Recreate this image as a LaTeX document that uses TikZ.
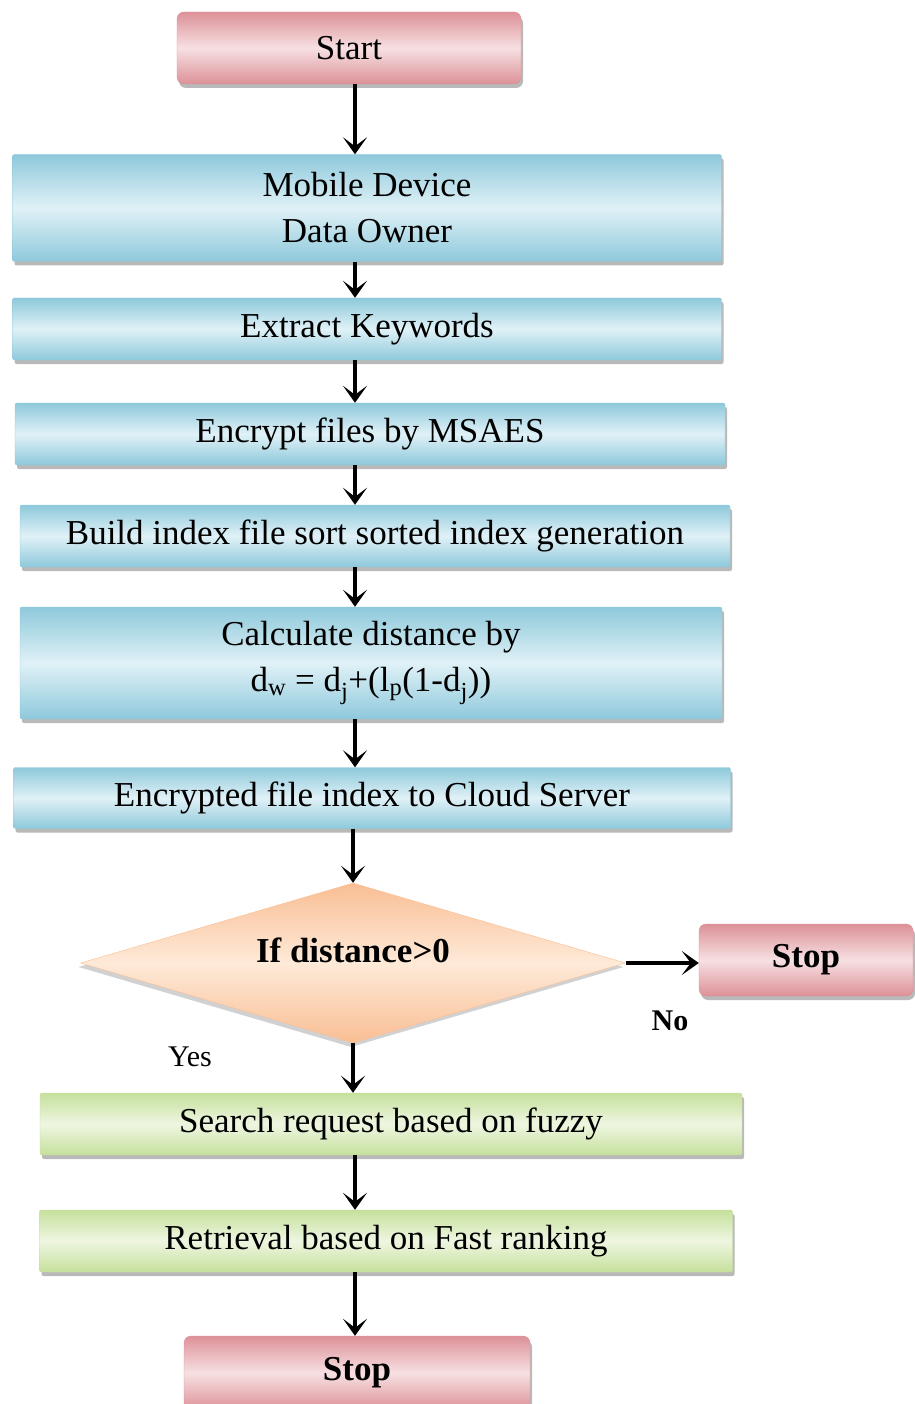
\documentclass[tikz,border=0pt]{standalone}
\usepackage{fontspec}
\setmainfont{Liberation Serif}
\usetikzlibrary{arrows.meta, shapes.geometric, shadows}

\definecolor{bluedark}{RGB}{142,201,219}
\definecolor{bluelight}{RGB}{224,241,247}
\definecolor{pinkdark}{RGB}{220,145,152}
\definecolor{pinklight}{RGB}{247,224,226}
\definecolor{greendark}{RGB}{198,224,156}
\definecolor{greenlight}{RGB}{238,246,225}
\definecolor{orangedark}{RGB}{249,190,148}
\definecolor{orangelight}{RGB}{254,234,216}

\begin{document}
\begin{tikzpicture}[x=1pt, y=-1pt]
    \tikzstyle{box}=[rectangle, rounded corners=2pt, inner sep=0pt, align=center, font=\fontsize{35}{46}\selectfont, drop shadow={shadow xshift=2pt, shadow yshift=-4pt, fill=black!55, opacity=.5}]
    \tikzstyle{bluebox}=[box, draw=bluedark, top color=bluedark, bottom color=bluedark, middle color=bluelight]
    \tikzstyle{greenbox}=[box, draw=greendark, top color=greendark, bottom color=greendark, middle color=greenlight]
    \tikzstyle{pinkbox}=[box, rounded corners=7pt, draw=pinkdark, top color=pinkdark, bottom color=pinkdark, middle color=pinklight]
    \tikzstyle{decision}=[diamond, aspect=3.4, inner sep=0pt, minimum width=545pt, minimum height=160pt, draw=orangedark, top color=orangedark, bottom color=orangedark, middle color=orangelight, font=\fontsize{35}{40}\selectfont\bfseries, text depth=26pt, drop shadow={shadow xshift=-2pt, shadow yshift=-4pt, fill=black!45, opacity=.4}]
    \tikzstyle{edge}=[draw, line width=4.5pt, -{Stealth[length=17pt, width=24pt, inset=9pt]}]
    \tikzstyle{answer}=[font=\fontsize{30}{36}\selectfont]

    \useasboundingbox (0,0) rectangle (914,1404);
    \coordinate (spine) at (355,0);

    \node[pinkbox, minimum width=344pt, minimum height=72pt] (start) at (349,48) {Start};
    \node[bluebox, minimum width=709pt, minimum height=107pt] (owner) at (367,208) {Mobile Device\\Data Owner};
    \node[bluebox, minimum width=709pt, minimum height=62pt] (extract) at (367,329) {Extract Keywords};
    \node[bluebox, minimum width=710pt, minimum height=62pt] (encrypt) at (370,434) {Encrypt files by MSAES};
    \node[bluebox, minimum width=710pt, minimum height=62pt] (index) at (375,536) {Build index file sort sorted index generation};
    \node[bluebox, minimum width=702pt, minimum height=112pt] (dist) at (371,663) {Calculate distance by\\d\textsubscript{w} = d\textsubscript{j}+(l\textsubscript{p}(1-d\textsubscript{j}))};
    \node[bluebox, minimum width=717pt, minimum height=61pt] (cloud) at (372,798) {Encrypted file index to Cloud Server};
    \node[decision] (check) at (353,963) {If distance>0};
    \node[pinkbox, minimum width=214pt, minimum height=72pt, font=\fontsize{35}{40}\selectfont\bfseries] (stopno) at (806,960) {Stop};
    \node[greenbox, minimum width=702pt, minimum height=62pt] (search) at (391,1124) {Search request based on fuzzy};
    \node[greenbox, minimum width=693pt, minimum height=62pt] (rank) at (386,1241) {Retrieval based on Fast ranking};
    \node[pinkbox, minimum width=346pt, minimum height=74pt, font=\fontsize{35}{40}\selectfont\bfseries] (stop) at (357,1373) {Stop};

    \node[answer, font=\fontsize{30}{36}\selectfont\bfseries] (no) at (670,1021) {No};
    \node[answer] (yes) at (190,1057) {Yes};

    \path[edge] (start.south -| spine) -- (owner.north -| spine);
    \path[edge] (owner.south -| spine) -- (extract.north -| spine);
    \path[edge] (extract.south -| spine) -- (encrypt.north -| spine);
    \path[edge] (encrypt.south -| spine) -- (index.north -| spine);
    \path[edge] (index.south -| spine) -- (dist.north -| spine);
    \path[edge] (dist.south -| spine) -- (cloud.north -| spine);
    \path[edge] (cloud.south -| check.north) -- (check.north);
    \path[edge] (check.east) -- (stopno.west |- check.east);
    \path[edge] (check.south) -- (search.north -| check.south);
    \path[edge] (search.south -| spine) -- (rank.north -| spine);
    \path[edge] (rank.south -| spine) -- (stop.north -| spine);
\end{tikzpicture}
\end{document}
